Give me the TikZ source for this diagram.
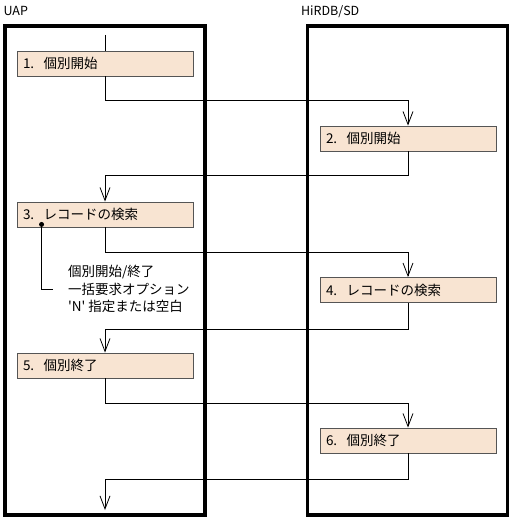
\documentclass[tikz,border=0pt]{standalone}
\usepackage{fontspec}
\setmainfont{Noto Sans CJK JP}
\usepackage{tikz}
\usetikzlibrary{arrows.meta,positioning}
\definecolor{peach}{HTML}{F8E4D2}
\definecolor{edgegray}{HTML}{555555}

\begin{document}
\begin{tikzpicture}[x=1pt,y=-1pt,
  >={Straight Barb[length=13pt,width=10pt]},
  lane/.style={draw=black,line width=3.2pt,minimum width=200pt,
               minimum height=489pt,inner sep=0pt},
  lanelabel/.style={font=\fontsize{12.5}{14}\selectfont,inner sep=0pt,anchor=base west},
  stepbox/.style={draw=edgegray,line width=0.9pt,fill=peach,minimum width=176pt,
                  minimum height=25pt,inner xsep=6pt,inner ysep=0pt,
                  text width=164pt,align=left,font=\fontsize{13.5}{15}\selectfont},
  flow/.style={->,line width=0.8pt},
  note/.style={align=left,inner sep=0pt,anchor=west,
               font=\fontsize{13.5}{17.5}\selectfont}
]
\useasboundingbox (0,0) rectangle (513,521);
% swim lanes
\node[lane] (uap) at (105,270.5) {};
\node[lane] (hirdb) at (407.5,270.5) {};
\node[lanelabel] (uapname) at ([yshift=9pt]uap.north west) {UAP};
\node[lanelabel] (hirdbname) at ([xshift=-5pt,yshift=9pt]hirdb.north west) {HiRDB/SD};

% steps
\node[stepbox] (s1) at (105,63.5) {1.\hspace{0.7em}個別開始};
\node[stepbox] (s2) at (408,138.5) {2.\hspace{0.7em}個別開始};
\node[stepbox] (s3) at (105,214.5) {3.\hspace{0.7em}レコードの検索};
\node[stepbox] (s4) at (408,290) {4.\hspace{0.7em}レコードの検索};
\node[stepbox] (s5) at (105,365.5) {5.\hspace{0.7em}個別終了};
\node[stepbox] (s6) at (408,440.5) {6.\hspace{0.7em}個別終了};
\coordinate (start) at (105,35);
\coordinate (finish) at (105,510);

\draw[line width=0.8pt] (start) -- (s1.north);
\draw[flow] (s1.south) -- ++(0,24) -| (s2.north);
\draw[flow] (s2.south) -- ++(0,24) -| (s3.north);
\draw[flow] (s3.south) -- ++(0,25) -| (s4.north);
\draw[flow] (s4.south) -- ++(0,26) -| (s5.north);
\draw[flow] (s5.south) -- ++(0,25) -| (s6.north);
\draw[flow] (s6.south) -- ++(0,26) -| (finish);

% remark on step 3
\node[circle,fill=black,inner sep=0pt,minimum size=5pt] (pin)
  at ([xshift=25pt,yshift=3pt]s3.south west) {};
\node[note] (remark) at (68,289)
  {個別開始/終了\\一括要求オプション\\\textquotesingle N\textquotesingle\ 指定または空白};
\draw[line width=0.8pt] (pin) |- ([xshift=-15pt]remark.west);
\end{tikzpicture}
\end{document}
